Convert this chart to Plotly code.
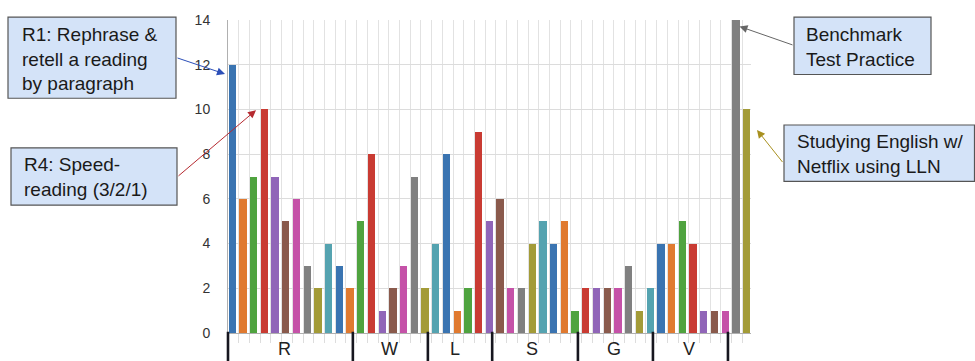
import plotly.graph_objects as go

# ---- data -------------------------------------------------------------
groups = ["R", "W", "L", "S", "G", "V"]
r_vals = [12, 6, 7, 10, 7, 5, 6, 3, 2, 4, 3, 2]
w_vals = [5, 8, 1, 2, 3, 7, 2]
l_vals = [4, 8, 1, 2, 9, 5]
s_vals = [6, 2, 2, 4, 5, 4, 5, 1]
g_vals = [2, 2, 2, 2, 3, 1, 2]
v_vals = [4, 4, 5, 4, 1, 1, 1]
extra_vals = [14, 10]  # Benchmark Test Practice, Netflix with LLN
group_values = [r_vals, w_vals, l_vals, s_vals, g_vals, v_vals]
y_ticks = [0, 2, 4, 6, 8, 10, 12, 14]

callout_texts = [
    "R1: Rephrase &<br>retell a reading<br>by paragraph",
    "R4: Speed-<br>reading (3/2/1)",
    "Benchmark<br>Test Practice",
    "Studying English w/<br>Netflix using LLN",
]

# ---- styling / geometry ------------------------------------------------
palette = ["#3a74b1", "#e07a30", "#4fa33f", "#c93b33", "#9065b8",
           "#8a5a4c", "#c552a8", "#808080", "#a39b38", "#55a3b0"]
W, H = 975, 361
M_L, M_R, M_T, M_B = 228, 224, 17, 28
PW, PH = W - M_L - M_R, H - M_T - M_B
FONT = "Liberation Sans, Arial, Helvetica, sans-serif"

values = [v for grp in group_values for v in grp] + extra_vals
n = len(values)
x_max = 48.8
colors = [palette[i % len(palette)] for i in range(n)]


def px_x(px):
    return (px - M_L) / PW


def px_y(py):
    return (H - M_B - py) / PH


fig = go.Figure()
fig.add_trace(go.Bar(
    x=list(range(n)), y=values, width=0.68, offset=0.05,
    marker=dict(color=colors, line=dict(width=0)),
    hoverinfo="y", showlegend=False,
))

shapes = []
annotations = []

# group separators below the axis
bounds = [0]
for grp in group_values:
    bounds.append(bounds[-1] + len(grp))
sep_x = [0.0] + [b - 0.35 for b in bounds[1:]]
for sx in sep_x:
    shapes.append(dict(type="line", xref="paper", yref="paper",
                       x0=sx / x_max, x1=sx / x_max, y0=0.004, y1=-(M_B + 2) / PH,
                       line=dict(color="#16161f", width=2.6)))

# group labels
label_x = [5.3, 15.1, 21.2, 28.4, 36.0, 43.0]
for g, lx in zip(groups, label_x):
    annotations.append(dict(text=g, xref="paper", yref="paper",
                            x=lx / x_max, y=px_y(349), xanchor="center", yanchor="middle",
                            showarrow=False, font=dict(family=FONT, size=18, color="#222")))

# callout boxes: (left, top, right, bottom, text left) in pixels
boxes = [
    (8, 14, 176, 96, 20),
    (11, 146, 177, 204, 22),
    (794, 14, 931, 72, 804),
    (784, 123, 974.5, 180, 795),
]
for (x0, y0, x1, y1, tx), txt in zip(boxes, callout_texts):
    shapes.append(dict(type="rect", xref="paper", yref="paper",
                       x0=px_x(x0), x1=px_x(x1), y0=px_y(y0), y1=px_y(y1),
                       fillcolor="#d4e3f8", line=dict(color="#555", width=1.2),
                       layer="above"))
    annotations.append(dict(text=txt, xref="paper", yref="paper",
                            x=px_x(tx), y=px_y((y0 + y1) / 2 + 1),
                            xanchor="left", yanchor="middle", align="left",
                            showarrow=False,
                            font=dict(family=FONT, size=19, color="#1a1a1a")))

# arrows: (tail x, tail y, tip x, tip y, colour) in pixels
arrows = [
    (176, 55, 225, 71.5, "#2c4fb8"),
    (177, 175, 256, 108, "#b62a30"),
    (794, 42.5, 739.5, 23.5, "#666666"),
    (784, 162, 757, 128, "#a8901f"),
]
for tx, ty, hx, hy, col in arrows:
    annotations.append(dict(text=" ", xref="paper", yref="paper",
                            x=px_x(hx), y=px_y(hy), ax=tx - hx, ay=ty - hy,
                            showarrow=True, arrowhead=2, arrowsize=1.6,
                            arrowwidth=1, arrowcolor=col, standoff=0,
                            startstandoff=0, font=dict(size=1)))

fig.update_layout(
    width=W, height=H,
    margin=dict(l=M_L, r=M_R, t=M_T, b=M_B, pad=0),
    paper_bgcolor="white", plot_bgcolor="white",
    bargap=0, shapes=shapes, annotations=annotations,
    font=dict(family=FONT),
    xaxis=dict(range=[0, x_max], tickmode="array", tickvals=list(range(n)),
               showticklabels=False, showgrid=True, gridcolor="#e2e2e2", gridwidth=1,
               ticks="outside", ticklen=9, tickcolor="#dddddd", tickwidth=1,
               zeroline=False, showline=True, linecolor="#b0b0b0", linewidth=1,
               fixedrange=True),
    yaxis=dict(range=[0, 14], tickmode="array", tickvals=y_ticks,
               showgrid=True, gridcolor="#dcdcdc", gridwidth=1,
               zeroline=False, showline=True, linecolor="#b0b0b0", linewidth=1,
               ticks="", ticklabelstandoff=14,
               tickfont=dict(family=FONT, size=14, color="#333"),
               fixedrange=True),
)

fig.write_html("out.html")
